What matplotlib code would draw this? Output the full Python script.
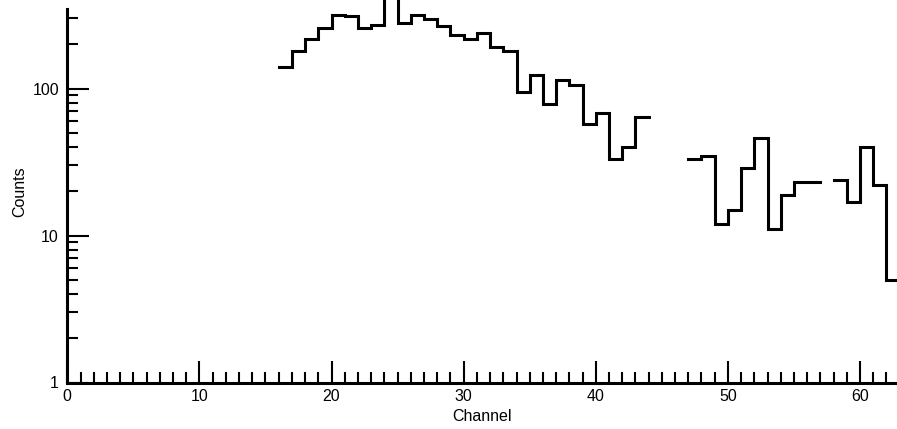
import numpy as np
import matplotlib
matplotlib.use("Agg")
import matplotlib.pyplot as plt
from matplotlib.ticker import FixedLocator, NullFormatter

plt.rcParams['font.family'] = ['Liberation Sans', 'DejaVu Sans']

# Data: counts per channel bin (bins 16..62), NaN where nothing drawn
first_channel = 16
counts = [140, 181, 218, 256, 315, 310, 256, 272, 500, 280,
          317, 295, 265, 233, 218, 238, 193, 179, 94, 123,
          78, 115, 106, 57, 68, 33, 40, 64, np.nan, np.nan,
          np.nan, 33, 35, 12, 15, 29, 46, 11, 19, 23,
          23, np.nan, 24, 17, 40, 22, 5]
x_ticks_major = [0, 10, 20, 30, 40, 50, 60]
y_ticks_major = [1, 10, 100]
y_tick_labels = ["1", "10", "100"]

vals = np.array(counts, dtype=float)
edges = np.arange(first_channel, first_channel + len(vals) + 1)
vals_ext = np.append(vals, vals[-1])

fig = plt.figure(figsize=(8.97, 4.29), dpi=100)
ax = fig.add_axes([67.3 / 897, (429 - 382.5) / 429, 1 - 67.3 / 897, 382.5 / 429])

ax.step(edges, vals_ext, where='post', color='black', lw=2.2, solid_joinstyle='miter')

ax.set_yscale('log')
ax.set_xlim(0, 62.8)
ax.set_ylim(1, 400)

for s in ['top', 'right']:
    ax.spines[s].set_visible(False)
for s in ['left', 'bottom']:
    ax.spines[s].set_linewidth(2.2)
ax.spines['left'].set_bounds(1, 346)

ax.xaxis.set_major_locator(FixedLocator(x_ticks_major))
ax.xaxis.set_minor_locator(FixedLocator(np.arange(0, 63, 1)))
ax.yaxis.set_major_locator(FixedLocator(y_ticks_major))
ax.set_yticklabels(y_tick_labels)
minor_y = [v * d for d in [1, 10, 100] for v in range(2, 10) if v * d < 346]
ax.yaxis.set_minor_locator(FixedLocator(minor_y))
ax.yaxis.set_minor_formatter(NullFormatter())

ax.tick_params(which='major', direction='in', length=15.5, width=1.5, labelsize=11.5, pad=5)
ax.tick_params(which='minor', direction='in', length=7.7, width=1.5)
ax.tick_params(axis='y', which='major', pad=6)

ax.set_xlabel('Channel', fontsize=11.5, labelpad=3)
ax.set_ylabel('Counts', fontsize=11.5, labelpad=4)

fig.savefig('out.png', dpi=100)
